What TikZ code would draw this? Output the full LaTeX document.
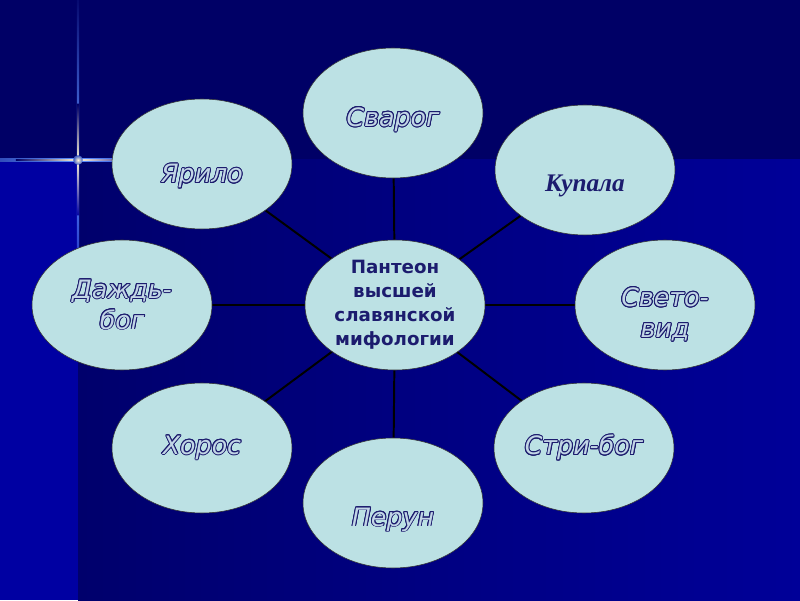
\documentclass[tikz,border=0pt]{standalone}
\usepackage{fontspec}
\setmainfont{DejaVu Sans}
\newfontfamily\serifbog{Liberation Serif}
\usepackage{contour}
\contourlength{0.65pt}
\usetikzlibrary{positioning, shapes, backgrounds}

\definecolor{fonTop}{HTML}{000066}
\definecolor{fonDark}{HTML}{00006C}
\definecolor{fonLight}{HTML}{000098}
\definecolor{fonStrip}{HTML}{0000A2}
\definecolor{ovalFill}{HTML}{BCE1E4}
\definecolor{textNavy}{HTML}{1C1C6E}
\definecolor{textIn}{HTML}{C2D6E6}
\definecolor{starBlue}{HTML}{5A8CFF}
\definecolor{starCore}{HTML}{FFF6D8}

\newcommand{\bogname}[1]{\contour{textNavy}{\textcolor{textIn}{#1}}}

\begin{document}
\begin{tikzpicture}[
    oval/.style={ellipse, draw=black!80, thin, fill=ovalFill, minimum width=4.5cm, minimum height=3.25cm, inner sep=0pt},
    godname/.style={font=\fontsize{18}{22}\selectfont\itshape, align=center},
    spoke/.style={draw=black, line width=1.4pt}
]
\useasboundingbox (0,0) rectangle (20,15);

% Центр
\node[oval, font=\fontsize{13}{17}\selectfont\bfseries, text=textNavy, align=center] (panteon) at (9.875,7.375) {Пантеон\\высшей\\славянской\\мифологии};

% Боги
\node[oval, label={[godname, yshift=-5pt]center:\bogname{Сварог}}] (svarog) at (9.825,12.175) {};
\node[oval, label={[font=\fontsize{18}{20}\selectfont\serifbog\bfseries\itshape, text=textNavy, yshift=-11pt]center:Купала}] (kupala) at (14.625,10.75) {};
\node[oval, label={[godname, yshift=-7pt]center:{\bogname{Свето-}\\\bogname{вид}}}] (svetovid) at (16.625,7.375) {};
\node[oval, label={[godname]center:\bogname{Стри-бог}}] (stribog) at (14.6,3.8) {};
\node[oval, label={[godname, yshift=-12pt]center:\bogname{Перун}}] (perun) at (9.825,2.425) {};
\node[oval, label={[godname]center:\bogname{Хорос}}] (khoros) at (5.05,3.8) {};
\node[oval, label={[godname]center:{\bogname{Даждь-}\\\bogname{бог}}}] (dazhdbog) at (3.05,7.375) {};
\node[oval, label={[godname, yshift=-9pt]center:\bogname{Ярило}}] (yarilo) at (5.05,10.9) {};

\begin{scope}[on background layer]
    % Фон
    \fill[fonTop] (0,11) rectangle (20,15);
    \shade[left color=fonDark, right color=fonLight] (1.95,0) rectangle (20,11);
    \fill[fonStrip] (0,0) rectangle (1.95,11);

    % Звезда
    \shade[top color=fonTop, bottom color=fonStrip, middle color=starBlue] (1.92,6.7) rectangle (1.98,15.3);
    \shade[top color=fonTop, bottom color=fonStrip, middle color=starCore] (1.94,9.6) rectangle (1.96,12.4);
    \shade[left color=fonTop, right color=fonLight, middle color=starBlue] (-2.4,10.97) rectangle (6.3,11.03);
    \shade[left color=fonTop, right color=fonLight, middle color=starCore] (0.4,10.99) rectangle (3.5,11.01);
    \shade[inner color=starCore, outer color=starBlue!60!fonTop] (1.95,11) circle (0.12);

    % Связи
    \foreach \bog in {svarog, kupala, svetovid, stribog, perun, khoros, dazhdbog, yarilo}
        \draw[spoke] (panteon) -- (\bog);
\end{scope}
\end{tikzpicture}
\end{document}
